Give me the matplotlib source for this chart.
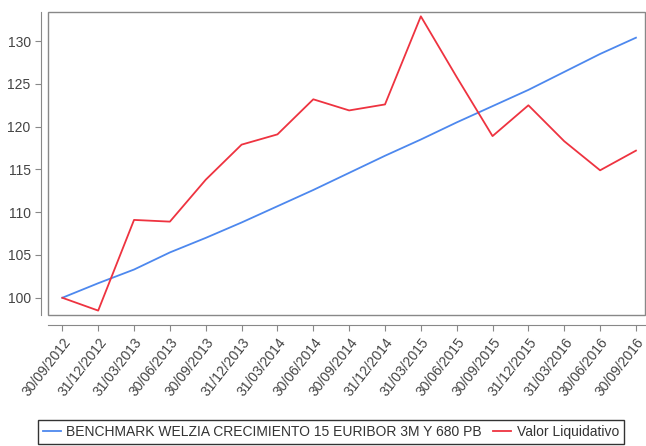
import matplotlib.pyplot as plt
from matplotlib.patches import Rectangle

plt.rcParams['font.family'] = ['Liberation Sans', 'DejaVu Sans']

fechas = ["30/09/2012", "31/12/2012", "31/03/2013", "30/06/2013", "30/09/2013",
          "31/12/2013", "31/03/2014", "30/06/2014", "30/09/2014", "31/12/2014",
          "31/03/2015", "30/06/2015", "30/09/2015", "31/12/2015", "31/03/2016",
          "30/06/2016", "30/09/2016"]
benchmark = [100.0, 101.7, 103.3, 105.3, 107.0, 108.8, 110.7, 112.6, 114.6,
             116.6, 118.5, 120.5, 122.4, 124.3, 126.4, 128.5, 130.4]
valor_liq = [100.0, 98.5, 109.1, 108.9, 113.8, 117.9, 119.1, 123.2, 121.9,
             122.6, 132.9, 125.8, 118.9, 122.5, 118.3, 114.9, 117.2]

fig = plt.figure(figsize=(6.46, 4.46), dpi=100)
ax = fig.add_axes([0.0743, 0.294, 0.924, 0.679])

x = range(len(fechas))
ax.plot(x, benchmark, color='#4d88ee', lw=1.3,
        label="BENCHMARK WELZIA CRECIMIENTO 15 EURIBOR 3M Y 680 PB")
ax.plot(x, valor_liq, color='#ee3340', lw=1.3, label="Valor Liquidativo")

ax.set_xlim(-0.4, len(fechas) - 1 + 0.25)
ax.set_ylim(98.0, 133.4)

for s in ['top', 'right']:
    ax.spines[s].set_visible(False)
# plot outline
ax.add_patch(Rectangle((0, 0), 1, 1, transform=ax.transAxes, fill=False,
                       ec='#888888', lw=1.0, clip_on=False))
# offset axis lines (set before tick labels, set_position resets ticks)
ax.spines['left'].set_position(('outward', 5))
ax.spines['bottom'].set_position(('outward', 7))
ax.spines['left'].set_color('#888888')
ax.spines['bottom'].set_color('#888888')

ax.set_yticks([100, 105, 110, 115, 120, 125, 130])
ax.set_xticks(list(x))
ax.set_xticklabels(fechas, rotation=52, ha='right', rotation_mode='anchor')
ax.tick_params(axis='both', colors='#888888', labelcolor='#444444',
               labelsize=10, length=4, width=0.8)

leg = fig.legend(loc='lower center', bbox_to_anchor=(0.512, 0.004), ncol=2,
                 frameon=True, fancybox=False, edgecolor='black',
                 fontsize=10, handlelength=1.3, handletextpad=0.4,
                 columnspacing=0.8, borderpad=0.35, borderaxespad=0)
leg.get_frame().set_linewidth(1.0)
for t in leg.get_texts():
    t.set_color('#333333')

fig.savefig('out.png', dpi=100)
